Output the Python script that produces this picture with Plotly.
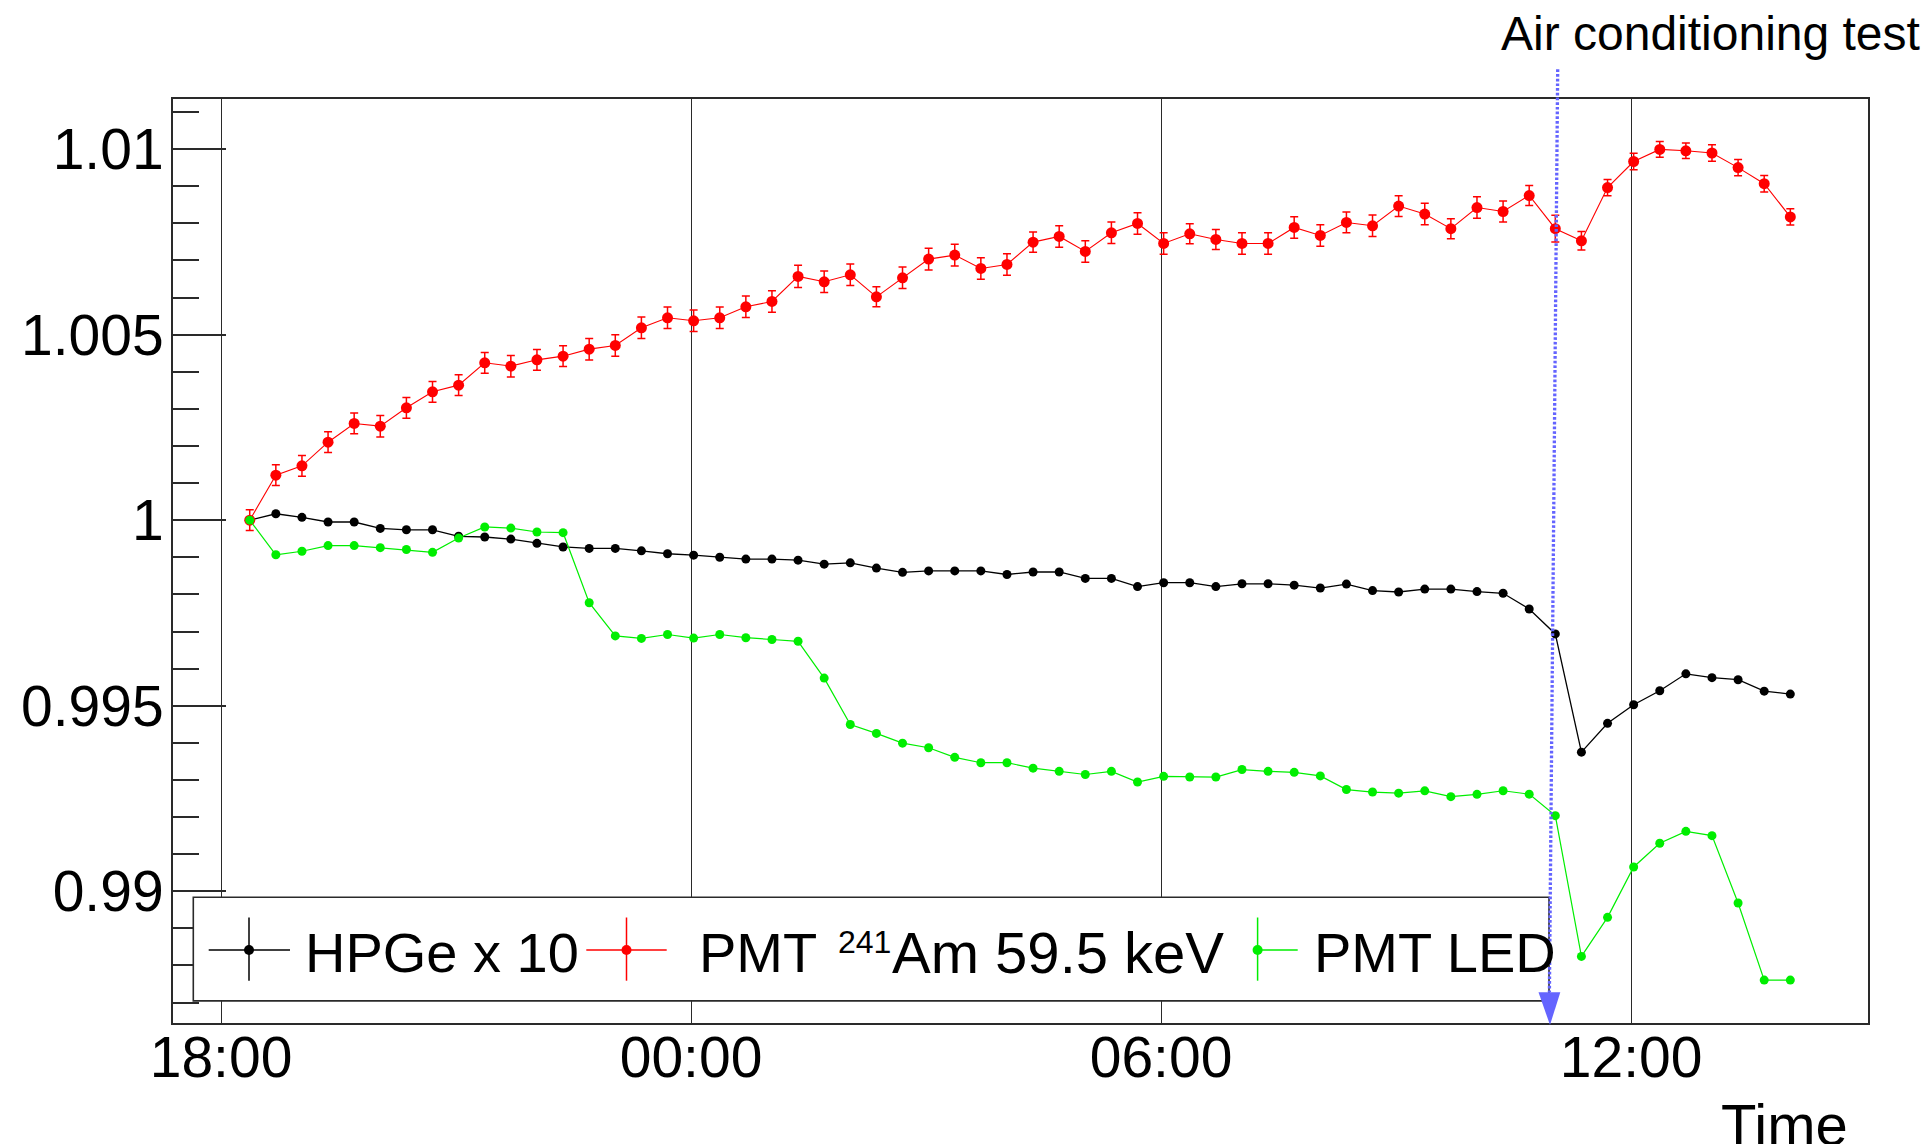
import pandas as pd
import plotly.graph_objects as go

# ---------------------------------------------------------------- data
# relative gain, one reading every 20 minutes
time_start = "2020-01-01 18:22"
n_points = 60
times = pd.date_range(time_start, periods=n_points, freq="20min")

hpge_x10 = [
    1.000000, 1.000173, 1.000077, 0.999951, 0.999951, 0.999779, 0.999741, 0.999741, 0.999566, 0.999547,
    0.999490, 0.999375, 0.999278, 0.999240, 0.999240, 0.999173, 0.999095, 0.999057, 0.999000, 0.998951,
    0.998951, 0.998922, 0.998815, 0.998850, 0.998709, 0.998595, 0.998633, 0.998633, 0.998633, 0.998536,
    0.998604, 0.998604, 0.998431, 0.998431, 0.998210, 0.998315, 0.998315, 0.998210, 0.998286, 0.998286,
    0.998248, 0.998171, 0.998277, 0.998103, 0.998065, 0.998143, 0.998143, 0.998075, 0.998030, 0.997607,
    0.996935, 0.993749, 0.994526, 0.995027, 0.995404, 0.995860, 0.995757, 0.995701, 0.995393, 0.995313,
]

pmt_am241 = [
    1.000000, 1.001213, 1.001465, 1.002102, 1.002606, 1.002534, 1.003028, 1.003459, 1.003639, 1.004241,
    1.004151, 1.004321, 1.004420, 1.004609, 1.004708, 1.005184, 1.005454, 1.005373, 1.005454, 1.005750,
    1.005894, 1.006568, 1.006424, 1.006613, 1.006019, 1.006532, 1.007035, 1.007143, 1.006784, 1.006892,
    1.007493, 1.007646, 1.007242, 1.007745, 1.007996, 1.007457, 1.007718, 1.007565, 1.007457, 1.007457,
    1.007888, 1.007673, 1.008023, 1.007933, 1.008464, 1.008250, 1.007855, 1.008425, 1.008318, 1.008749,
    1.007855, 1.007528, 1.008962, 1.009666, 1.009992, 1.009954, 1.009895, 1.009501, 1.009067, 1.008173,
]

pmt_am241_err = [
    0.00028, 0.00028, 0.00028, 0.00028, 0.00028, 0.00029, 0.00028, 0.00028, 0.00028, 0.00028,
    0.00029, 0.00028, 0.00028, 0.00029, 0.00029, 0.00029, 0.00029, 0.00029, 0.00029, 0.00029,
    0.00029, 0.00030, 0.00029, 0.00029, 0.00027, 0.00029, 0.00029, 0.00029, 0.00029, 0.00029,
    0.00027, 0.00029, 0.00029, 0.00029, 0.00029, 0.00029, 0.00027, 0.00027, 0.00029, 0.00029,
    0.00029, 0.00029, 0.00028, 0.00029, 0.00028, 0.00029, 0.00027, 0.00029, 0.00028, 0.00027,
    0.00036, 0.00025, 0.00022, 0.00022, 0.00021, 0.00021, 0.00022, 0.00022, 0.00022, 0.00022,
]

pmt_led = [
    1.000000, 0.999067, 0.999162, 0.999316, 0.999316, 0.999259, 0.999210, 0.999134, 0.999518, 0.999817,
    0.999787, 0.999682, 0.999663, 0.997776, 0.996881, 0.996814, 0.996919, 0.996822, 0.996919, 0.996833,
    0.996784, 0.996736, 0.995744, 0.994493, 0.994253, 0.993992, 0.993868, 0.993609, 0.993464, 0.993464,
    0.993318, 0.993232, 0.993146, 0.993232, 0.992943, 0.993097, 0.993078, 0.993078, 0.993280, 0.993232,
    0.993205, 0.993108, 0.992741, 0.992674, 0.992644, 0.992706, 0.992550, 0.992612, 0.992709, 0.992617,
    0.992038, 0.988245, 0.989297, 0.990655, 0.991294, 0.991615, 0.991499, 0.989685, 0.987607, 0.987607,
]

x_tick_vals = ["2020-01-01 18:00", "2020-01-02 00:00", "2020-01-02 06:00", "2020-01-02 12:00"]
x_tick_text = ["18:00", "00:00", "06:00", "12:00"]
x_range = ["2020-01-01 17:23:14", "2020-01-02 15:01:30"]

y_tick_vals = [0.99, 0.995, 1.0, 1.005, 1.01]
y_tick_text = ["0.99", "0.995", "1", "1.005", "1.01"]
y_range = [0.98645, 1.01135]

series_names = ["HPGe x 10", "PMT", "PMT LED"]

# ---------------------------------------------------------------- layout geometry
W, H = 1927, 1144
ML, MR, MT, MB = 173, 59, 99, 121
PW, PH = W - ML - MR, H - MT - MB
FONT = "Liberation Sans, Arial, Helvetica, sans-serif"
FRAME = "#2a2a2a"
BLACK, RED, GREEN, BLUE = "#000000", "#ff0000", "#00ee00", "rgb(100,100,255)"


def px(xp):
    """pixel column -> paper x"""
    return (xp - ML) / PW


def py(yp):
    """pixel row -> paper y"""
    return (H - MB - yp) / PH


fig = go.Figure()

fig.add_trace(go.Scatter(
    x=times, y=hpge_x10, mode="lines+markers", name=series_names[0],
    line=dict(color=BLACK, width=1.3), marker=dict(color=BLACK, size=9),
))
fig.add_trace(go.Scatter(
    x=times, y=pmt_am241, mode="lines+markers", name=series_names[1],
    line=dict(color=RED, width=1.1), marker=dict(color=RED, size=11),
    error_y=dict(type="data", array=pmt_am241_err, visible=True,
                 color=RED, thickness=1.5, width=4),
))
fig.add_trace(go.Scatter(
    x=times, y=pmt_led, mode="lines+markers", name=series_names[2],
    line=dict(color=GREEN, width=1.2), marker=dict(color=GREEN, size=9),
))

# ---------------------------------------------------------------- legend box (drawn by hand)
shapes = []
shapes.append(dict(type="rect", xref="paper", yref="paper",
                   x0=px(193.3), x1=px(1549), y0=py(1000.9), y1=py(897.3),
                   line=dict(color=FRAME, width=1.6), fillcolor="white", layer="above"))

legend_row_y = 950
legend_symbols = [
    # centre, colour, line from, line to
    (249.0, BLACK, 208.7, 290.0),
    (626.5, RED, 586.3, 666.7),
    (1257.6, GREEN, 1257.6, 1297.7),
]
for cx, col, lx0, lx1 in legend_symbols:
    shapes.append(dict(type="line", xref="paper", yref="paper",
                       x0=px(lx0), x1=px(lx1), y0=py(legend_row_y), y1=py(legend_row_y),
                       line=dict(color=col, width=1.5), layer="above"))
    shapes.append(dict(type="line", xref="paper", yref="paper",
                       x0=px(cx), x1=px(cx), y0=py(917.5), y1=py(980.7),
                       line=dict(color=col, width=1.5), layer="above"))
    shapes.append(dict(type="circle", xref="paper", yref="paper",
                       xsizemode="pixel", ysizemode="pixel",
                       xanchor=px(cx), yanchor=py(legend_row_y),
                       x0=-5, x1=5, y0=-5, y1=5,
                       fillcolor=col, line=dict(width=0), layer="above"))

# ---------------------------------------------------------------- dotted arrow marking the test
arrow_top = (1557.7, 69.3)
arrow_base = (1549.4, 992.3)
arrow_tip = (1550.0, 1025.0)
head_half = 10.9
shapes.append(dict(type="line", xref="paper", yref="paper",
                   x0=px(arrow_top[0]), y0=py(arrow_top[1]),
                   x1=px(arrow_base[0]), y1=py(arrow_base[1]),
                   line=dict(color=BLUE, width=3.3, dash="2.7px,2px"), layer="above"))
head_path = "M {:.6f},{:.6f} L {:.6f},{:.6f} L {:.6f},{:.6f} Z".format(
    px(arrow_base[0] - head_half), py(arrow_base[1]),
    px(arrow_base[0] + head_half), py(arrow_base[1]),
    px(arrow_tip[0]), py(arrow_tip[1]))
shapes.append(dict(type="path", xref="paper", yref="paper", path=head_path,
                   fillcolor=BLUE, line=dict(width=0), layer="above"))

# ---------------------------------------------------------------- text
LEG_FS = 56
annotations = [
    dict(text="Air conditioning test", x=px(1498.5), y=py(4.5), xanchor="left", yanchor="top",
         font=dict(family=FONT, size=48, color="black")),
    dict(text="Time", x=px(1849.5), y=py(1090.0), xanchor="right", yanchor="top",
         font=dict(family=FONT, size=58, color="black")),
    dict(text=series_names[0], x=px(302.5), y=py(952.6), xanchor="left", yanchor="middle",
         font=dict(family=FONT, size=LEG_FS, color="black")),
    dict(text=series_names[1], x=px(697.0), y=py(952.6), xanchor="left", yanchor="middle",
         font=dict(family=FONT, size=LEG_FS, color="black")),
    dict(text="241", x=px(836.0), y=py(942.0), xanchor="left", yanchor="middle",
         font=dict(family=FONT, size=32, color="black")),
    dict(text="Am 59.5 keV", x=px(890.0), y=py(952.6), xanchor="left", yanchor="middle",
         font=dict(family=FONT, size=58, color="black")),
    dict(text=series_names[2], x=px(1312.3), y=py(952.6), xanchor="left", yanchor="middle",
         font=dict(family=FONT, size=LEG_FS, color="black")),
]
for a in annotations:
    a.update(xref="paper", yref="paper", showarrow=False)

fig.update_layout(
    width=W, height=H,
    margin=dict(l=ML, r=MR, t=MT, b=MB, pad=0),
    paper_bgcolor="white", plot_bgcolor="white",
    showlegend=False,
    shapes=shapes,
    annotations=annotations,
    font=dict(family=FONT, color="black"),
)

fig.update_xaxes(
    type="date", range=x_range,
    tickmode="array", tickvals=x_tick_vals, ticktext=x_tick_text,
    ticks="", tickfont=dict(family=FONT, size=57, color="black"),
    ticklabelstandoff=-16,
    showgrid=True, gridcolor=FRAME, gridwidth=1.3,
    showline=True, mirror=True, linecolor=FRAME, linewidth=2,
    zeroline=False,
)
fig.update_yaxes(
    range=y_range,
    tickmode="array", tickvals=y_tick_vals, ticktext=y_tick_text,
    ticks="inside", ticklen=53, tickwidth=1.6, tickcolor=FRAME,
    minor=dict(tick0=0.99, dtick=0.001, ticks="inside", ticklen=26,
               tickwidth=1.6, tickcolor=FRAME, showgrid=False),
    tickfont=dict(family=FONT, size=57, color="black"),
    ticklabelstandoff=-4,
    showgrid=False,
    showline=True, mirror=True, linecolor=FRAME, linewidth=2,
    zeroline=False,
)

fig.write_html("out.html")
